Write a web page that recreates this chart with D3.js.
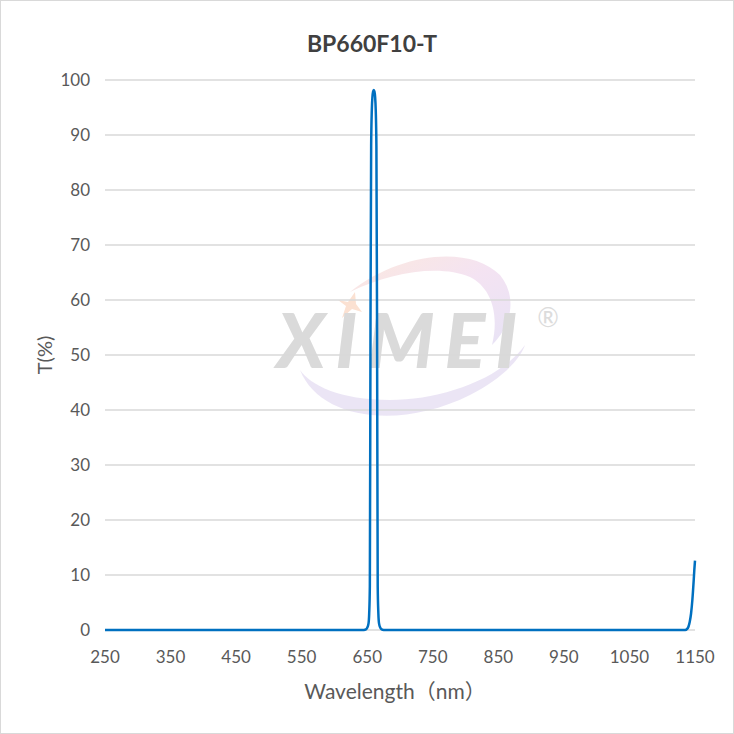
<!DOCTYPE html>
<html><head><meta charset="utf-8">
<script src="https://cdn.jsdelivr.net/npm/d3@7/dist/d3.min.js"></script>
<style>body{margin:0;background:#fff;}svg{display:block;}</style>
</head><body>
<svg id="c" width="734" height="734"></svg>
<script>
const title = "BP660F10-T";
const xLabel = "Wavelength（nm）";
const yLabel = "T(%)";
const xTicks = [250,350,450,550,650,750,850,950,1050,1150];
const yTicks = [0,10,20,30,40,50,60,70,80,90,100];
const wavelength = [250,400,600,645,648,650,652,653,654,655,656,657,658,659,660,661,662,663,664,665,666,667,668,670,672,675,800,1000,1130,1135,1138,1140,1142,1144,1146,1148,1149,1150];
const transmission = [0,0,0,0,0.1,0.4,1.2,3,8,55,88,94.5,97,97.9,98.2,97.9,97,94.5,88,55,8,3,1.2,0.4,0.1,0,0,0,0,0,0.2,0.6,1.5,3,5.5,9,11,12.6];

const svg = d3.select("#c");
const m = {l:105, r:695, t:80, b:630};
const x = d3.scaleLinear().domain([250,1150]).range([m.l, m.r]);
const y = d3.scaleLinear().domain([0,100]).range([m.b, m.t]);

svg.append("rect").attr("x",0.5).attr("y",0.5).attr("width",733).attr("height",733)
  .attr("fill","#fff").attr("stroke","#d9d9d9");

// watermark
const wm = svg.append("g");
const defs = svg.append("defs");
const g1 = defs.append("linearGradient").attr("id","wg").attr("x1","0").attr("y1","0").attr("x2","1").attr("y2","1");
g1.append("stop").attr("offset","0").attr("stop-color","#fbe3d6");
g1.append("stop").attr("offset","0.5").attr("stop-color","#f1dcef");
g1.append("stop").attr("offset","1").attr("stop-color","#e2dcf3");
wm.append("path").attr("d","M350,292 C400,252 470,245 500,275 C520,300 508,330 492,345 C500,312 490,287 470,277 C440,264 390,272 350,292 Z")
  .attr("fill","url(#wg)").attr("opacity",0.8);
wm.append("path").attr("d","M300,370 C320,420 400,430 470,395 C500,380 520,360 525,345 C500,380 440,400 390,400 C340,400 310,385 300,370 Z")
  .attr("fill","#e6def3").attr("opacity",0.8);
wm.append("path").attr("d","M355,292 L348,302 L338,300 L346,306 L342,318 L352,309 L362,312 L356,304 Z")
  .attr("fill","#fbe1d2");
wm.append("text").attr("x",402).attr("y",368).attr("text-anchor","middle")
  .attr("font-family","Lato, 'Open Sans', sans-serif").attr("font-weight",900).attr("font-style","italic")
  .attr("font-size",76).attr("fill","#dadada").attr("letter-spacing",10).text("XIMEI");
wm.append("text").attr("x",548).attr("y",327).attr("text-anchor","middle")
  .attr("font-family","Lato, sans-serif").attr("font-size",26).attr("fill","#dcdcdc").text("®");

// gridlines
svg.append("g").selectAll("line").data(yTicks).join("line")
  .attr("x1",m.l).attr("x2",m.r).attr("y1",d=>y(d)).attr("y2",d=>y(d))
  .attr("stroke","#d9d9d9").attr("stroke-width",1.3);

// y tick labels
svg.append("g").selectAll("text").data(yTicks).join("text")
  .attr("x",90).attr("y",d=>y(d)).attr("dy","0.35em").attr("text-anchor","end")
  .attr("font-family","Lato, 'Open Sans', sans-serif").attr("font-size",17).attr("fill","#595959").text(d=>d);
// x tick labels
svg.append("g").selectAll("text").data(xTicks).join("text")
  .attr("x",d=>x(d)).attr("y",663).attr("text-anchor","middle")
  .attr("font-family","Lato, 'Open Sans', sans-serif").attr("font-size",17).attr("fill","#595959").text(d=>d);

// line
const line = d3.line().x((d,i)=>x(wavelength[i])).y((d,i)=>y(transmission[i])).curve(d3.curveMonotoneX);
svg.append("path").datum(transmission).attr("d",line).attr("fill","none")
  .attr("stroke","#0070c0").attr("stroke-width",2.5).attr("stroke-linejoin","round");

// titles
svg.append("text").attr("x",372).attr("y",52).attr("text-anchor","middle")
  .attr("font-family","Lato, 'Open Sans', sans-serif").attr("font-weight",700).attr("font-size",23)
  .attr("fill","#404040").text(title);
svg.append("text").attr("x",395).attr("y",699).attr("text-anchor","middle")
  .attr("font-family","Lato, 'Noto Sans CJK SC', sans-serif").attr("font-size",21)
  .attr("fill","#595959").text(xLabel);
svg.append("text").attr("transform","translate(52,355) rotate(-90)").attr("text-anchor","middle")
  .attr("font-family","Lato, 'Open Sans', sans-serif").attr("font-size",20)
  .attr("fill","#595959").text(yLabel);
</script>
</body></html>
